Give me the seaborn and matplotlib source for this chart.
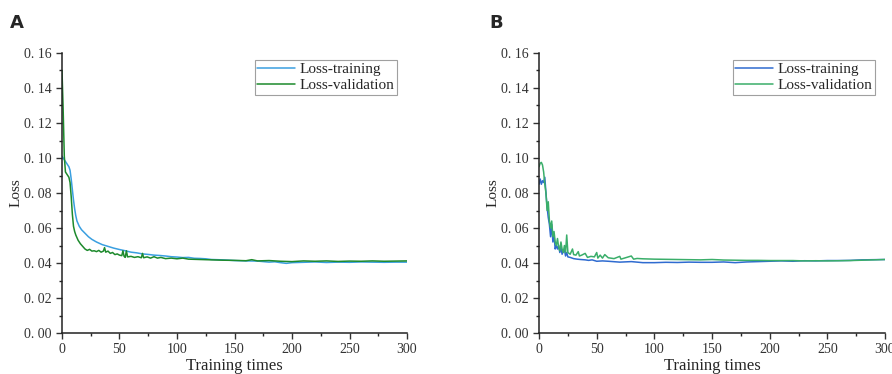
import matplotlib
matplotlib.use("Agg")
import matplotlib.pyplot as plt
import seaborn as sns
from matplotlib.ticker import MultipleLocator, FuncFormatter

# Panel A
a_train_x = [0, 2, 4, 6, 7, 8, 9, 10, 11, 12, 13, 15, 17, 20, 23, 26, 30, 35, 40, 45, 50, 55, 60, 65,
             70, 75, 80, 85, 90, 95, 100, 105, 110, 115, 120, 125, 130, 140, 150, 160, 170, 175,
             180, 185, 190, 195, 200, 210, 220, 230, 240, 250, 260, 270, 280, 290, 300]
a_train_y = [0.101, 0.099, 0.097, 0.095, 0.093, 0.088, 0.082, 0.076, 0.071, 0.067, 0.064, 0.061, 0.059,
             0.057, 0.055, 0.0535, 0.052, 0.0505, 0.0495, 0.0485, 0.0477, 0.047, 0.0462, 0.0458,
             0.0452, 0.0449, 0.0445, 0.0443, 0.044, 0.0436, 0.0434, 0.0431, 0.0432, 0.0427, 0.0426,
             0.0424, 0.042, 0.0418, 0.0414, 0.0412, 0.0411, 0.0408, 0.0405, 0.0407, 0.0402, 0.0398,
             0.0402, 0.0404, 0.0406, 0.0403, 0.0405, 0.0404, 0.0406, 0.0405, 0.0404, 0.0405, 0.0405]
a_val_x = [0, 1, 2, 3, 5, 6, 7, 8, 9, 10, 11, 12, 14, 16, 18, 20, 22, 24, 26, 28, 30, 32, 34, 36, 37,
           38, 40, 42, 44, 46, 48, 50, 52, 53, 54, 55, 56, 57, 60, 63, 66, 69, 70, 71, 74, 77, 80,
           83, 86, 90, 95, 100, 105, 110, 120, 130, 140, 150, 160, 165, 170, 180, 190, 200, 210,
           220, 230, 240, 250, 260, 270, 280, 290, 300]
a_val_y = [0.150, 0.128, 0.101, 0.092, 0.090, 0.089, 0.086, 0.078, 0.068, 0.061, 0.058, 0.056, 0.053,
           0.051, 0.0495, 0.048, 0.0472, 0.0478, 0.0468, 0.047, 0.0465, 0.0472, 0.0462, 0.0468,
           0.0488, 0.0462, 0.0468, 0.0455, 0.046, 0.0448, 0.0452, 0.0445, 0.0442, 0.047, 0.0438,
           0.0432, 0.047, 0.0435, 0.0438, 0.0432, 0.0436, 0.043, 0.0455, 0.043, 0.0435, 0.0428,
           0.0436, 0.0428, 0.0432, 0.0425, 0.0428, 0.0424, 0.0428, 0.0422, 0.042, 0.0418, 0.0416,
           0.0415, 0.0413, 0.0419, 0.0412, 0.0414, 0.041, 0.0408, 0.0412, 0.041, 0.0412, 0.0409,
           0.0411, 0.041, 0.0412, 0.041, 0.0411, 0.0412]

# Panel B
b_train_x = [0, 1, 2, 3, 4, 5, 6, 7, 8, 9, 10, 11, 12, 13, 14, 15, 16, 17, 18, 19, 20, 21, 22, 23,
             24, 25, 27, 30, 33, 36, 40, 43, 46, 50, 55, 60, 70, 80, 90, 100, 110, 120, 130, 140,
             150, 160, 170, 180, 190, 200, 210, 220, 230, 240, 250, 260, 270, 280, 290, 300]
b_train_y = [0.085, 0.088, 0.085, 0.087, 0.086, 0.089, 0.080, 0.072, 0.066, 0.062, 0.055, 0.062,
             0.052, 0.056, 0.048, 0.050, 0.048, 0.050, 0.046, 0.049, 0.045, 0.047, 0.0475, 0.044,
             0.046, 0.0435, 0.0432, 0.0425, 0.0422, 0.042, 0.0418, 0.0415, 0.0418, 0.041, 0.0412,
             0.041, 0.0405, 0.0408, 0.0402, 0.0402, 0.0404, 0.0403, 0.0405, 0.0404, 0.0404, 0.0406,
             0.0402, 0.0406, 0.0408, 0.041, 0.0412, 0.041, 0.0413, 0.0412, 0.0414, 0.0414, 0.0415,
             0.0418, 0.0419, 0.042]
b_val_x = [0, 1, 2, 3, 4, 5, 6, 7, 8, 9, 10, 11, 12, 13, 14, 15, 16, 17, 18, 19, 20, 21, 22, 23, 24,
           25, 27, 29, 30, 32, 34, 35, 37, 40, 42, 45, 48, 50, 51, 53, 55, 57, 60, 65, 70, 71, 75,
           80, 82, 85, 90, 100, 110, 120, 130, 140, 150, 160, 170, 180, 190, 200, 210, 220, 230,
           240, 250, 260, 270, 280, 290, 300]
b_val_y = [0.095, 0.097, 0.0975, 0.096, 0.092, 0.085, 0.080, 0.070, 0.075, 0.064, 0.060, 0.064, 0.055,
           0.058, 0.052, 0.050, 0.054, 0.049, 0.047, 0.052, 0.048, 0.046, 0.050, 0.046, 0.056,
           0.046, 0.045, 0.048, 0.0448, 0.0445, 0.0465, 0.044, 0.0445, 0.0455, 0.0432, 0.0438,
           0.0435, 0.046, 0.0428, 0.0445, 0.0428, 0.0448, 0.043, 0.0425, 0.0438, 0.0422, 0.043,
           0.044, 0.0422, 0.0426, 0.0424, 0.0422, 0.0421, 0.042, 0.0419, 0.0418, 0.042, 0.0417,
           0.0416, 0.0415, 0.0415, 0.0414, 0.0414, 0.0414, 0.0412, 0.0413, 0.0412, 0.0413, 0.0414,
           0.0416, 0.0418, 0.042]

sns.set_style("ticks")
plt.rcParams["font.family"] = ["Liberation Serif", "DejaVu Serif"]

fig = plt.figure(figsize=(8.92, 3.74), dpi=100)
axA = fig.add_axes([0.0695, 0.1096, 0.3868, 0.7487])
axB = fig.add_axes([0.6043, 0.1096, 0.3879, 0.7487])

panels = [
    (axA, a_train_x, a_train_y, a_val_x, a_val_y, "#3a9fe0", "#1d8a2c"),
    (axB, b_train_x, b_train_y, b_val_x, b_val_y, "#2f6bd0", "#3aae6a"),
]

fmt = FuncFormatter(lambda v, p: ("%.2f" % v).replace(".", ". "))

for ax, tx, ty, vx, vy, c1, c2 in panels:
    sns.lineplot(x=tx, y=ty, ax=ax, color=c1, linewidth=1.1, label="Loss-training")
    sns.lineplot(x=vx, y=vy, ax=ax, color=c2, linewidth=1.1, label="Loss-validation")
    ax.set_xlim(0, 300)
    ax.set_ylim(0, 0.16)
    ax.xaxis.set_major_locator(MultipleLocator(50))
    ax.xaxis.set_minor_locator(MultipleLocator(25))
    ax.yaxis.set_major_locator(MultipleLocator(0.02))
    ax.yaxis.set_minor_locator(MultipleLocator(0.01))
    ax.yaxis.set_major_formatter(fmt)
    ax.tick_params(which="major", direction="out", length=4, width=1, labelsize=10, colors="#333333")
    ax.tick_params(which="minor", direction="out", length=2.5, width=1)
    for s in ["top", "right"]:
        ax.spines[s].set_visible(False)
    for s in ["left", "bottom"]:
        ax.spines[s].set_linewidth(1.1)
        ax.spines[s].set_color("#222222")
    ax.set_xlabel("Training times", fontsize=12, labelpad=1)
    ax.set_ylabel("Loss", fontsize=11, labelpad=1)
    leg = ax.legend(loc="upper right", bbox_to_anchor=(0.98, 0.985), fontsize=11,
                    frameon=True, fancybox=False, edgecolor="#888888",
                    handlelength=2.5, handletextpad=0.3, borderpad=0.15, labelspacing=0.15,
                    borderaxespad=0.2)
    leg.get_frame().set_linewidth(0.8)

fig.text(0.011, 0.925, "A", fontsize=13, fontweight="bold", family="DejaVu Sans")
fig.text(0.549, 0.925, "B", fontsize=13, fontweight="bold", family="DejaVu Sans")

fig.savefig("out.png", dpi=100)
